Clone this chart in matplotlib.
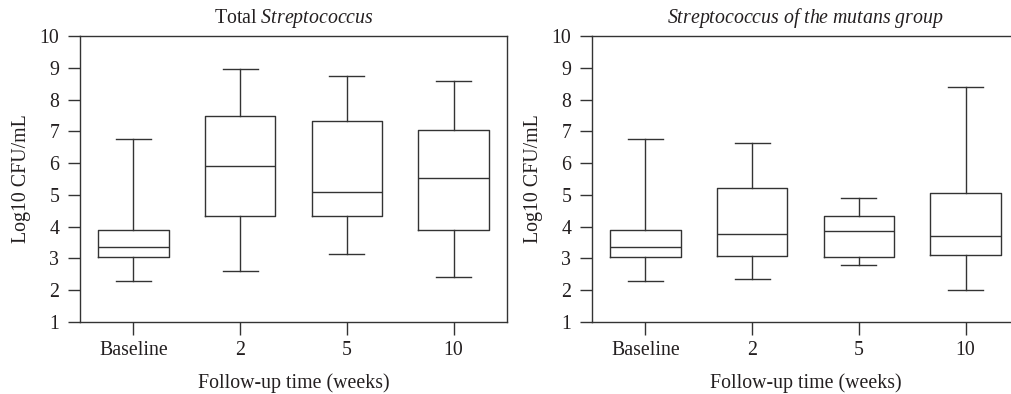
import matplotlib
matplotlib.use("Agg")
import matplotlib.pyplot as plt

plt.rcParams['font.family'] = ['Liberation Serif', 'DejaVu Serif']
plt.rcParams['mathtext.fontset'] = 'custom'
plt.rcParams['mathtext.rm'] = 'Liberation Serif'
plt.rcParams['mathtext.it'] = 'Liberation Serif:italic'

categories = ["Baseline", "2", "5", "10"]

# Total Streptococcus
total_whislo = [2.29, 2.59, 3.13, 2.42]
total_q1     = [3.05, 4.34, 4.33, 3.91]
total_med    = [3.36, 5.92, 5.09, 5.53]
total_q3     = [3.91, 7.48, 7.32, 7.03]
total_whishi = [6.76, 8.95, 8.73, 8.58]

# Streptococcus of the mutans group
mutans_whislo = [2.29, 2.36, 2.78, 2.00]
mutans_q1     = [3.05, 3.08, 3.04, 3.12]
mutans_med    = [3.36, 3.78, 3.85, 3.70]
mutans_q3     = [3.91, 5.22, 4.33, 5.06]
mutans_whishi = [6.76, 6.62, 4.91, 8.39]

yticks = [1, 2, 3, 4, 5, 6, 7, 8, 9, 10]

W, H = 1012, 394
fig = plt.figure(figsize=(W / 100, H / 100), dpi=100)

ax_bottom = (394 - 322) / H
ax_height = (322 - 36) / H
ax_width = (507 - 80) / W
ax1 = fig.add_axes([80 / W, ax_bottom, ax_width, ax_height])
ax2 = fig.add_axes([592 / W, ax_bottom, ax_width, ax_height])

lw = 1.0
col = '#333333'
tcol = '#231f20'
fs = 14.3

def draw(ax, lo, q1, med, q3, hi, title):
    stats = []
    for i, c in enumerate(categories):
        stats.append(dict(whislo=lo[i], q1=q1[i], med=med[i], q3=q3[i],
                          whishi=hi[i], fliers=[], label=c))
    ax.bxp(stats, positions=range(1, len(categories) + 1), widths=0.66,
           showfliers=False,
           boxprops=dict(color=col, linewidth=lw),
           medianprops=dict(color=col, linewidth=lw),
           whiskerprops=dict(color=col, linewidth=lw),
           capprops=dict(color=col, linewidth=lw),
           capwidths=0.33)
    ax.set_xlim(0.5, len(categories) + 0.5)
    ax.set_ylim(1, 10)
    ax.set_yticks(yticks)
    ax.set_xticks(range(1, len(categories) + 1))
    ax.set_xticklabels(categories)
    for s in ax.spines.values():
        s.set_linewidth(lw)
        s.set_color(col)
    ax.tick_params(axis='both', direction='out', length=9, width=lw,
                   color=col, labelsize=fs, labelcolor=tcol)
    ax.tick_params(axis='y', pad=6)
    ax.tick_params(axis='x', pad=5)
    ax.set_ylabel("Log10 CFU/mL", fontsize=fs, color=tcol, labelpad=6)
    ax.set_xlabel("Follow-up time (weeks)", fontsize=fs, color=tcol, labelpad=9)
    ax.set_title(title, fontsize=fs, color=tcol, pad=9)

draw(ax1, total_whislo, total_q1, total_med, total_q3, total_whishi,
     r"Total $\mathit{Streptococcus}$")
draw(ax2, mutans_whislo, mutans_q1, mutans_med, mutans_q3, mutans_whishi,
     r"$\mathit{Streptococcus\ of\ the\ mutans\ group}$")
ax2.spines['right'].set_visible(False)

fig.savefig("out.png", dpi=100)
